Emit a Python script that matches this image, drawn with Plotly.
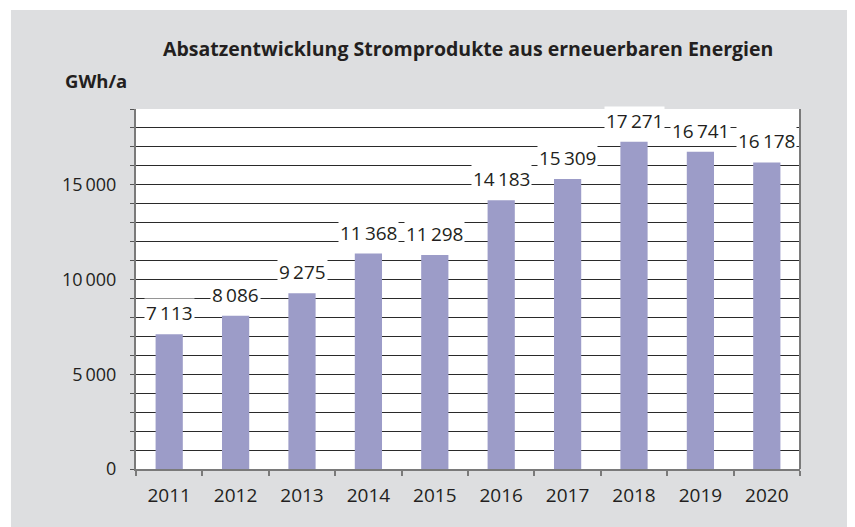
import plotly.graph_objects as go

years = ["2011", "2012", "2013", "2014", "2015", "2016", "2017", "2018", "2019", "2020"]
sales = [7113, 8086, 9275, 11368, 11298, 14183, 15309, 17271, 16741, 16178]
label_text = ["7\u2009113", "8\u2009086", "9\u2009275", "11\u2009368", "11\u2009298",
              "14\u2009183", "15\u2009309", "17\u2009271", "16\u2009741", "16\u2009178"]
ytick_vals = list(range(0, 19001, 1000))
ytick_text = ["0" if v == 0 else ("5\u2009000" if v == 5000 else ("10\u2009000" if v == 10000 else ("15\u2009000" if v == 15000 else ""))) for v in ytick_vals]

FONT = "Open Sans"
BG = "#dddee0"

fig = go.Figure()
fig.add_trace(go.Bar(x=years, y=sales, marker=dict(color="#9c9cc8", line=dict(width=0)),
                     width=0.41, hoverinfo="skip"))

for i, (v, t) in enumerate(zip(sales, label_text)):
    fig.add_annotation(x=i, y=v, text=t, showarrow=False, yanchor="middle", yshift=21,
                       bgcolor="white", borderpad=1,
                       font=dict(family=FONT, size=19, color="#231f20"))

fig.add_annotation(xref="paper", yref="paper", x=0.5, y=1.169, text="<b>Absatzentwicklung Stromprodukte aus erneuerbaren Energien</b>",
                   showarrow=False, xanchor="center", yanchor="middle",
                   font=dict(family=FONT, size=19.5, color="#231f20"))
fig.add_annotation(xref="paper", yref="paper", x=-0.11, y=1.08, text="<b>GWh/a</b>",
                   showarrow=False, xanchor="left", yanchor="middle",
                   font=dict(family=FONT, size=18.5, color="#231f20"))

# white outer margin strips (top and left)
fig.add_shape(type="rect", xref="paper", yref="paper", x0=-0.3, x1=-0.1883, y0=-0.3, y1=1.4,
              fillcolor="white", line=dict(width=0), layer="above")
fig.add_shape(type="rect", xref="paper", yref="paper", x0=-0.3, x1=1.2, y0=1.275, y1=1.4,
              fillcolor="white", line=dict(width=0), layer="above")
# right border of plot area
fig.add_shape(type="line", xref="paper", yref="paper", x0=1, x1=1, y0=0, y1=1,
              line=dict(color="#7a7a7a", width=2), layer="above")

fig.update_layout(
    width=847, height=519,
    margin=dict(l=128, r=55, t=101, b=58, autoexpand=False),
    paper_bgcolor=BG, plot_bgcolor="white",
    showlegend=False,
    bargap=0.59,
    font=dict(family=FONT, size=18, color="#231f20"),
)
fig.update_xaxes(type="category", range=[-0.5, 9.5], tickson="boundaries", ticks="outside", ticklen=5, tickwidth=1.5,
                 tickcolor="#7a7a7a", showline=True, linecolor="#7a7a7a", linewidth=2,
                 showgrid=False, ticklabelstandoff=8, tickangle=0, automargin=False,
                 tickfont=dict(family=FONT, size=19, color="#231f20"))
fig.update_yaxes(range=[0, 19000], tickmode="array", tickvals=ytick_vals, ticktext=ytick_text,
                 ticks="outside", ticklen=4, tickcolor="#555555", tickwidth=1,
                 showline=True, linecolor="#7a7a7a", linewidth=2, automargin=False,
                 showgrid=True, gridcolor="#2a2a2a", gridwidth=1, zeroline=False,
                 ticklabelstandoff=10,
                 tickfont=dict(family=FONT, size=18, color="#231f20"))

fig.write_html("out.html")
